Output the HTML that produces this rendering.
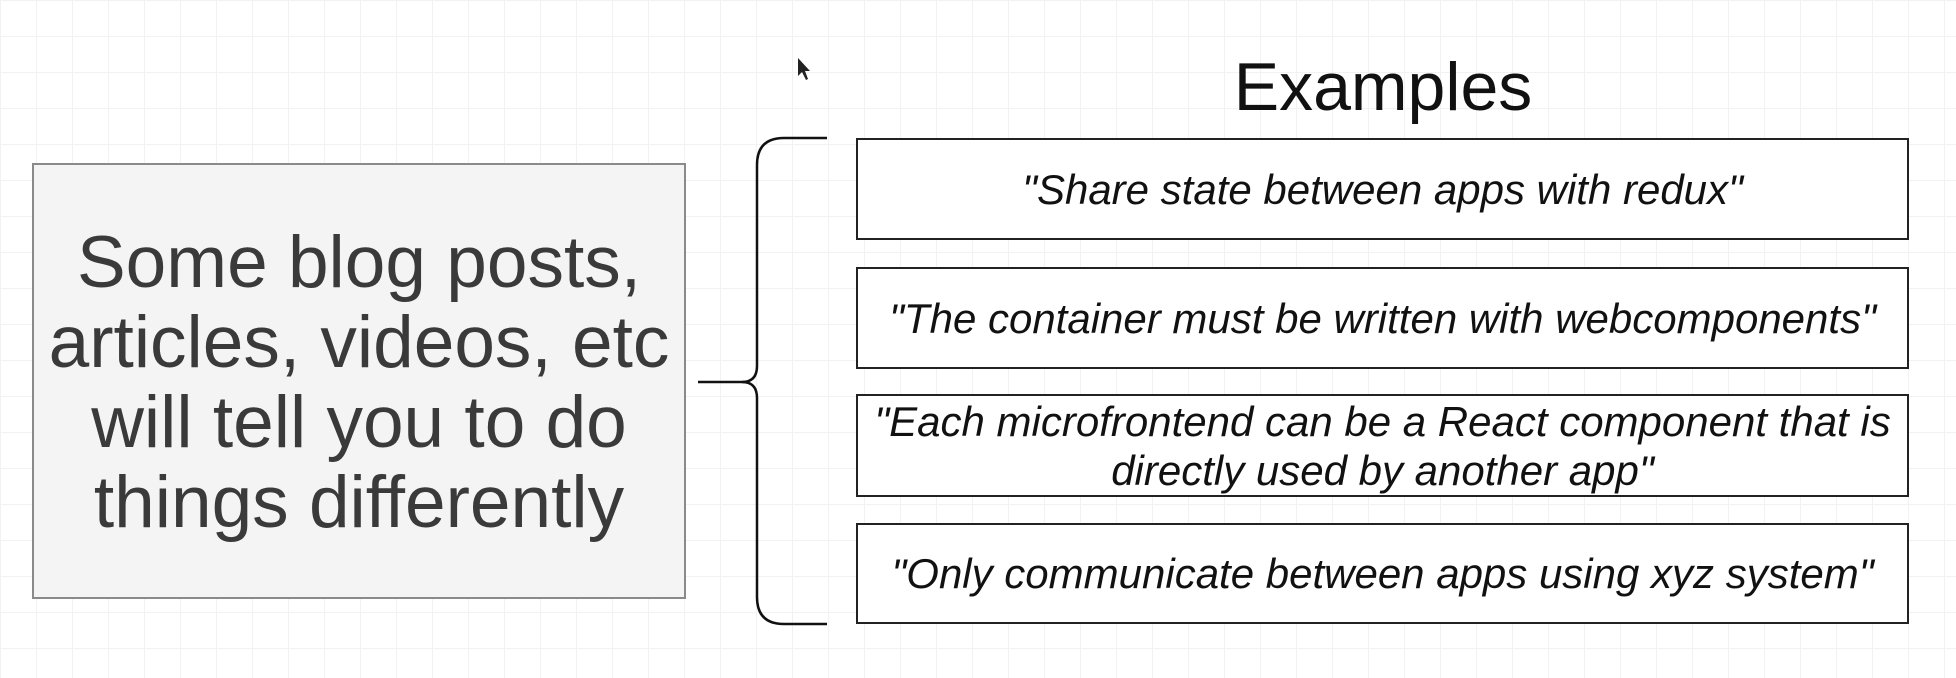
<!DOCTYPE html>
<html><head><meta charset="utf-8"><style>
body{margin:0;width:1956px;height:678px;overflow:hidden;background:#fff;
background-image:linear-gradient(#f2f2f2 1px,transparent 1px),linear-gradient(90deg,#f2f2f2 1px,transparent 1px);background-size:36px 36px;font-family:"Liberation Sans",sans-serif;position:relative}
.l{position:absolute;left:32px;top:163px;width:650px;height:428px;padding-top:4px;background:#f4f4f4;border:2px solid #8a8a8a;display:flex;align-items:center;justify-content:center;text-align:center;font-size:73px;line-height:80px;color:#3a3a3a;white-space:nowrap}
.b{position:absolute;left:856px;width:1049px;border:2px solid #222;background:#fff;display:flex;align-items:center;justify-content:center;text-align:center;font-style:italic;font-size:42px;line-height:49px;color:#111;white-space:nowrap}
h1{position:absolute;left:1133px;top:48px;width:500px;text-align:center;margin:0;font-weight:normal;font-size:68px;color:#111}
</style></head><body>
<div class="l">Some blog posts,<br>articles, videos, etc<br>will tell you to do<br>things differently</div>
<svg width="1956" height="678" style="position:absolute;left:0;top:0">
<path d="M698 382 H742 Q757 382 757 366 V165 Q757 138 784 138 H827" fill="none" stroke="#111" stroke-width="2.5"/>
<path d="M742 382 Q757 382 757 398 V597 Q757 624 784 624 H827" fill="none" stroke="#111" stroke-width="2.5"/>
<path d="M798 58 L798 76 L802 72 L806 80 L808 79 L805 71 L810 71 Z" fill="#222"/>
</svg>
<h1>Examples</h1>
<div class="b" style="top:138px;height:98px">"Share state between apps with redux"</div>
<div class="b" style="top:267px;height:98px">"The container must be written with webcomponents"</div>
<div class="b" style="top:394px;height:99px">"Each microfrontend can be a React component that is<br>directly used by another app"</div>
<div class="b" style="top:523px;height:97px">"Only communicate between apps using xyz system"</div>
</body></html>
